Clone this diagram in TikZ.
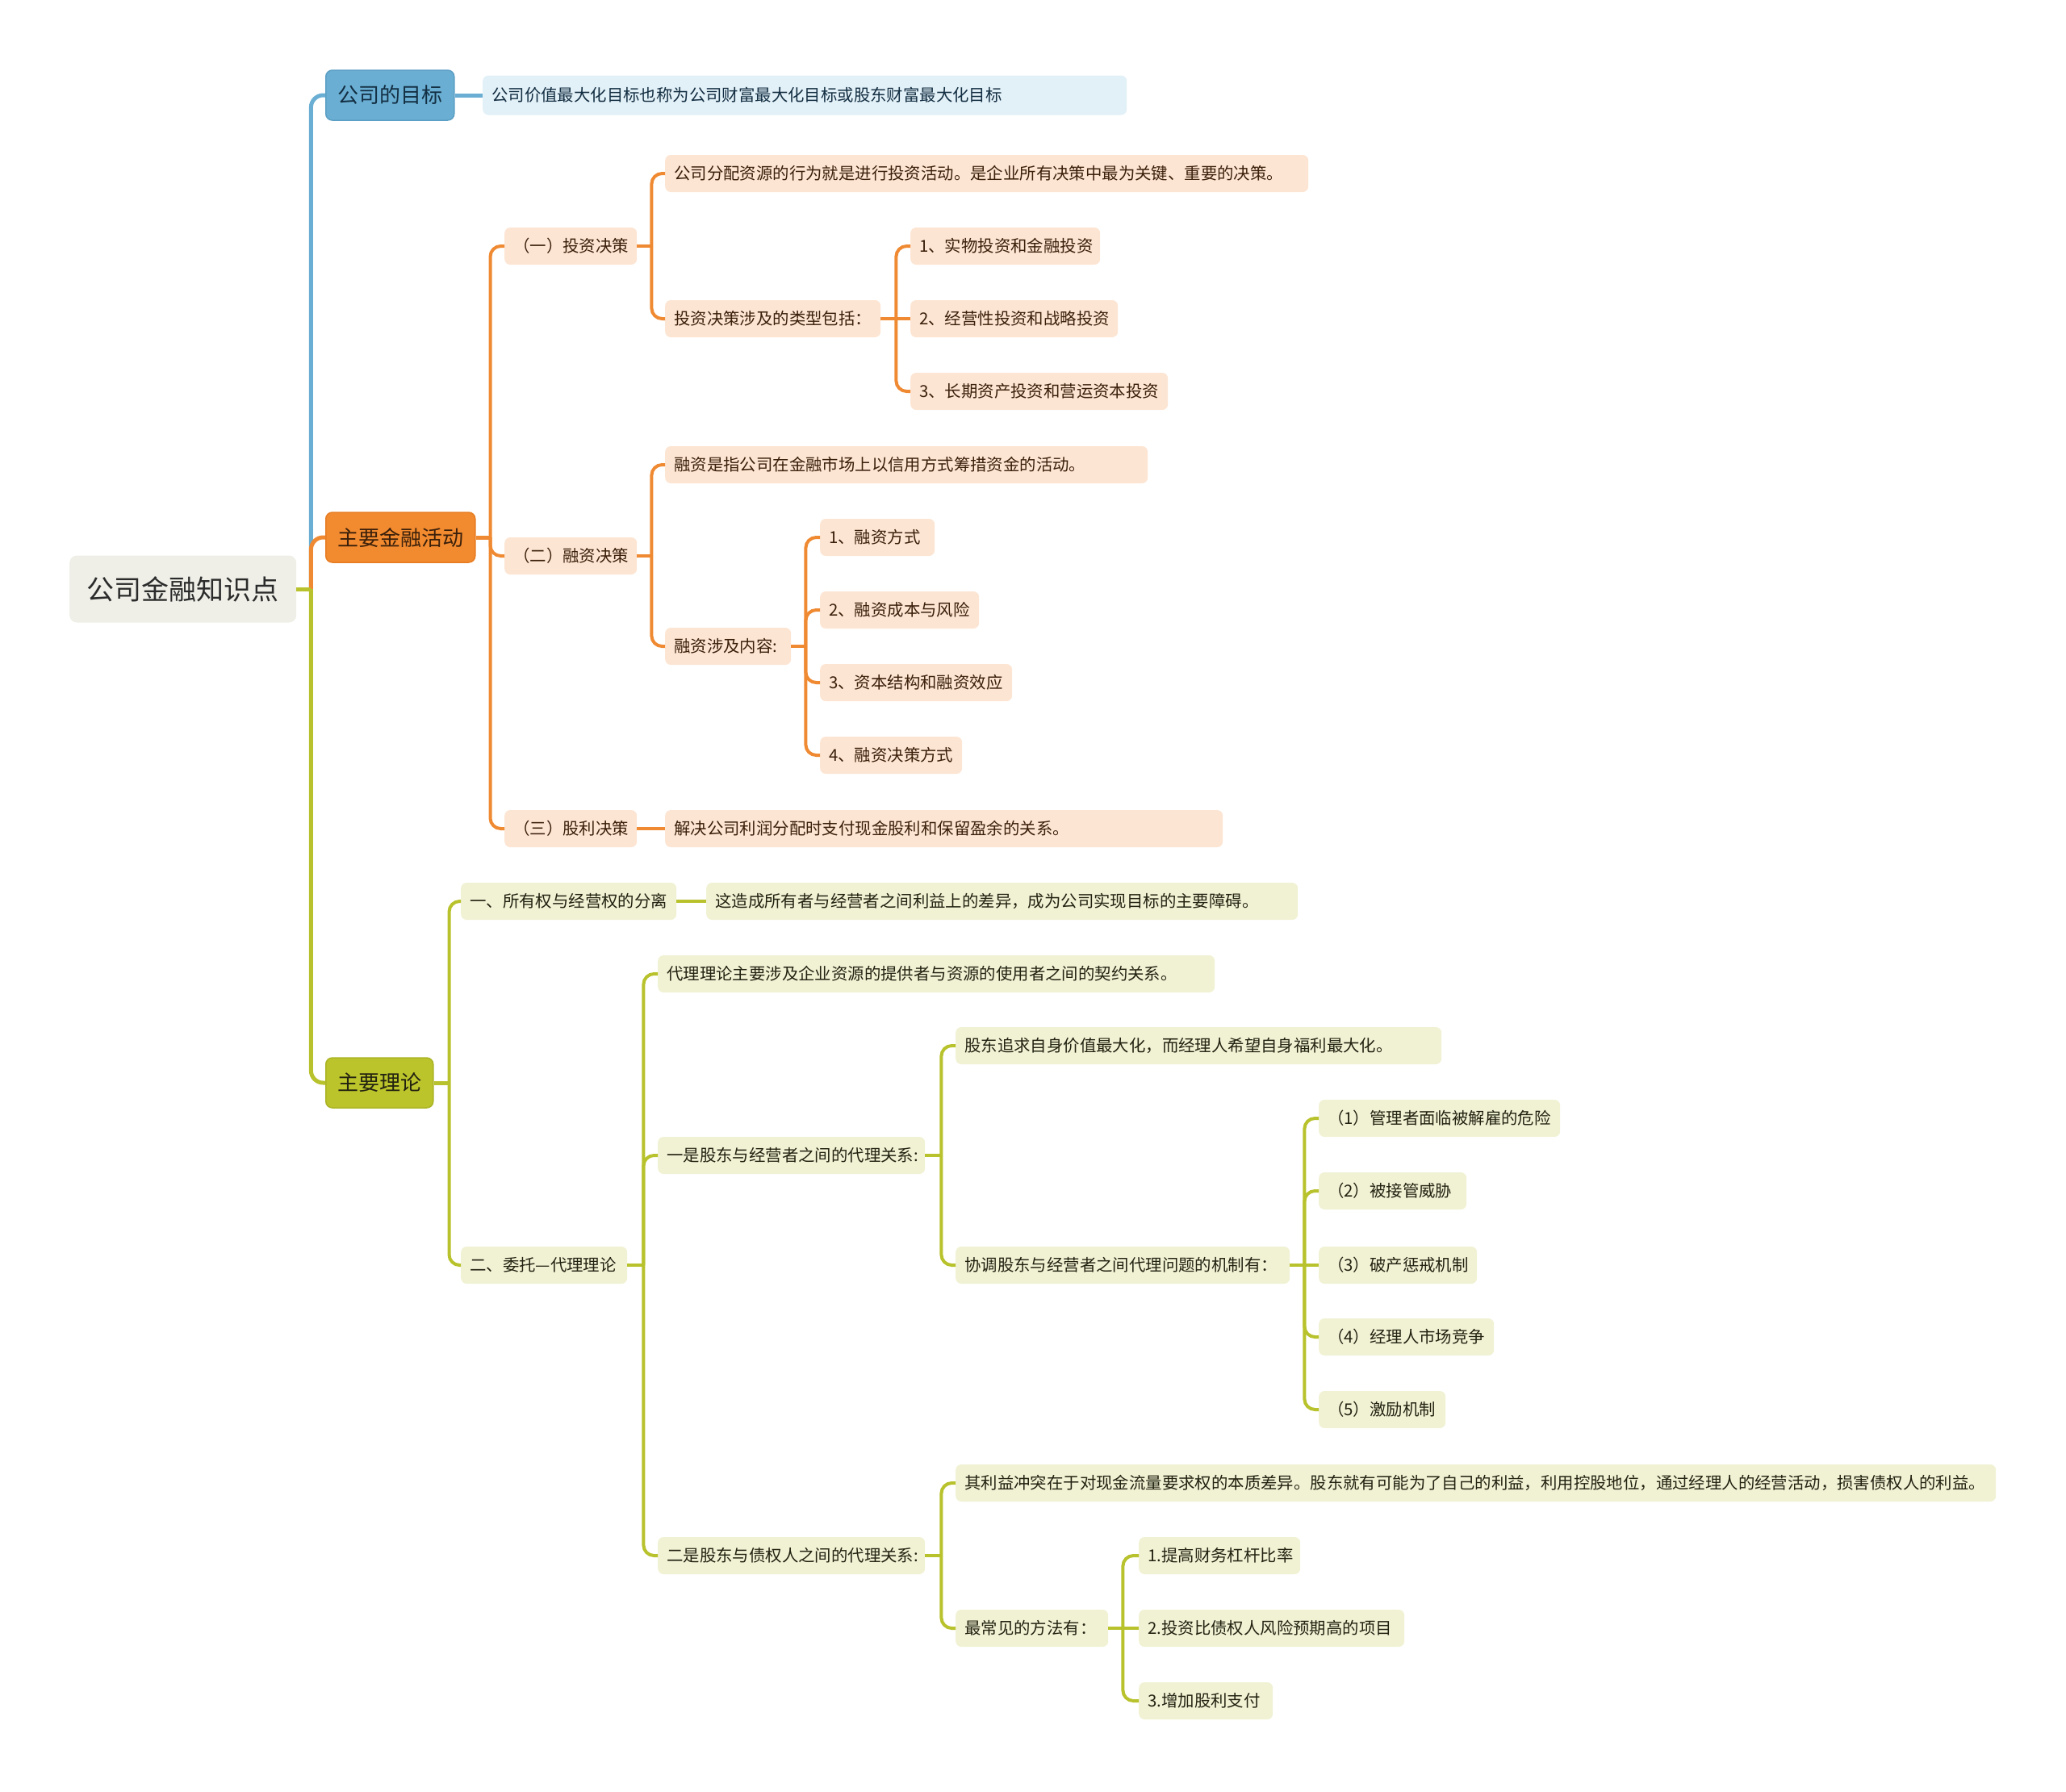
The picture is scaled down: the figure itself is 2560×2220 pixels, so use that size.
\documentclass[tikz,border=0pt]{standalone}
\usepackage{fontspec}
\newfontfamily\cjk{Noto Sans CJK SC}
\usetikzlibrary{calc}
\definecolor{rootfill}{HTML}{EFEFE8}
\definecolor{roottext}{HTML}{2B2B2B}
\definecolor{bfill}{HTML}{6AAFD3}
\definecolor{bdraw}{HTML}{5C9FC4}
\definecolor{bline}{HTML}{6AAFD3}
\definecolor{bleaffill}{HTML}{E2F0F7}
\definecolor{btext}{HTML}{132E42}
\definecolor{ofill}{HTML}{F28A2F}
\definecolor{odraw}{HTML}{E67D22}
\definecolor{oline}{HTML}{EF8A33}
\definecolor{oleaffill}{HTML}{FDE5D3}
\definecolor{otext}{HTML}{3A200B}
\definecolor{gfill}{HTML}{BCC42B}
\definecolor{gdraw}{HTML}{AAB424}
\definecolor{gline}{HTML}{B8C22C}
\definecolor{gleaffill}{HTML}{F1F2D4}
\definecolor{gtext}{HTML}{222211}
\begin{document}
\begin{tikzpicture}[x=1pt,y=-1pt,
  base/.style={anchor=west, rounded corners=7pt, inner xsep=11pt, inner ysep=0pt,
    minimum height=46pt, align=left, font=\cjk\fontsize{20.4pt}{24pt}\selectfont},
  oleaf/.style={base, fill=oleaffill, text=otext},
  gleaf/.style={base, fill=gleaffill, text=gtext},
  bleaf/.style={base, fill=bleaffill, text=btext, minimum height=49pt},
  lone/.style={anchor=west, rounded corners=8pt, inner sep=0pt, minimum height=62pt,
    line width=1.5pt, font=\cjk\fontsize{26pt}{30pt}\selectfont},
  rootbox/.style={anchor=west, rounded corners=9pt, inner sep=0pt, minimum height=83pt,
    fill=rootfill, text=roottext, font=\cjk\fontsize{34pt}{38pt}\selectfont},
  bl/.style={draw=bline, line width=5pt},
  olA/.style={draw=oline, line width=5pt},
  glA/.style={draw=gline, line width=5pt},
  ol/.style={draw=oline, line width=4pt},
  gl/.style={draw=gline, line width=4pt},
]
\useasboundingbox (0,0) rectangle (2560,2220);

% ---------------- nodes ----------------
\node[rootbox, minimum width=281pt] (root) at (86,730) {公司金融知识点};

\node[lone, fill=bfill, draw=bdraw, text=btext, minimum width=159pt] (goal) at (403,118) {公司的目标};
\node[lone, fill=ofill, draw=odraw, text=otext, minimum width=185pt] (fin) at (403,666) {主要金融活动};
\node[lone, fill=gfill, draw=gdraw, text=gtext, minimum width=133pt] (theo) at (403,1342) {主要理论};

\node[bleaf, text width=776pt] (goal1) at (598,118) {公司价值最大化目标也称为公司财富最大化目标或股东财富最大化目标};

% orange branch
\node[oleaf, text width=142pt] (inv) at (625,305) {（一）投资决策};
\node[oleaf, text width=142pt] (fnd) at (625,689) {（二）融资决策};
\node[oleaf, text width=142pt] (div) at (625,1027) {（三）股利决策};

\node[oleaf, text width=775pt] (inv1) at (824,215) {公司分配资源的行为就是进行投资活动。是企业所有决策中最为关键、重要的决策。};
\node[oleaf, text width=245pt] (inv2) at (824,395) {投资决策涉及的类型包括：};
\node[oleaf, text width=213pt] (t1) at (1128,305) {1、实物投资和金融投资};
\node[oleaf, text width=235pt] (t2) at (1128,395) {2、经营性投资和战略投资};
\node[oleaf, text width=297pt] (t3) at (1128,485) {3、长期资产投资和营运资本投资};

\node[oleaf, text width=576pt] (f1) at (824,576) {融资是指公司在金融市场上以信用方式筹措资金的活动。};
\node[oleaf, text width=134pt] (f2) at (824,801) {融资涉及内容:};
\node[oleaf, text width=120pt] (c1) at (1016,666) {1、融资方式};
\node[oleaf, text width=175pt] (c2) at (1016,756) {2、融资成本与风险};
\node[oleaf, text width=216pt] (c3) at (1016,846) {3、资本结构和融资效应};
\node[oleaf, text width=154pt] (c4) at (1016,936) {4、融资决策方式};

\node[oleaf, text width=669pt] (d1) at (824,1027) {解决公司利润分配时支付现金股利和保留盈余的关系。};

% green branch
\node[gleaf, text width=245pt] (own) at (571,1117) {一、所有权与经营权的分离};
\node[gleaf, text width=711pt] (own1) at (875,1117) {这造成所有者与经营者之间利益上的差异，成为公司实现目标的主要障碍。};
\node[gleaf, text width=184pt] (agt) at (571,1568) {二、委托—代理理论};

\node[gleaf, text width=668pt] (a1) at (815,1207) {代理理论主要涉及企业资源的提供者与资源的使用者之间的契约关系。};
\node[gleaf, text width=309pt] (a2) at (815,1432) {一是股东与经营者之间的代理关系:};
\node[gleaf, text width=309pt] (a3) at (815,1928) {二是股东与债权人之间的代理关系:};

\node[gleaf, text width=580pt] (b1) at (1184,1296) {股东追求自身价值最大化，而经理人希望自身福利最大化。};
\node[gleaf, text width=392pt] (b2) at (1184,1568) {协调股东与经营者之间代理问题的机制有：};

\node[gleaf, text width=277pt] (m1) at (1634,1386) {（1）管理者面临被解雇的危险};
\node[gleaf, text width=161pt] (m2) at (1634,1476) {（2）被接管威胁};
\node[gleaf, text width=174pt] (m3) at (1634,1568) {（3）破产惩戒机制};
\node[gleaf, text width=195pt] (m4) at (1634,1657) {（4）经理人市场竞争};
\node[gleaf, text width=135pt] (m5) at (1634,1747) {（5）激励机制};

\node[gleaf, text width=1267pt] (e1) at (1184,1838) {其利益冲突在于对现金流量要求权的本质差异。股东就有可能为了自己的利益，利用控股地位，通过经理人的经营活动，损害债权人的利益。};
\node[gleaf, text width=167pt] (e2) at (1184,2018) {最常见的方法有：};

\node[gleaf, text width=178pt] (g1) at (1411,1928) {1.提高财务杠杆比率};
\node[gleaf, text width=307pt] (g2) at (1411,2018) {2.投资比债权人风险预期高的项目};
\node[gleaf, text width=144pt] (g3) at (1411,2108) {3.增加股利支付};

% ---------------- connectors ----------------
\coordinate (rootJ) at ($(root.east)+(18,0)$);
\draw[bl] (root.east) -- (rootJ);
\draw[bl, rounded corners=15pt] (rootJ) |- (goal.west);
\draw[olA, rounded corners=15pt] (rootJ) |- (fin.west);
\draw[glA] (root.east) -- (rootJ);
\draw[glA, rounded corners=15pt] (rootJ) |- (theo.west);

\draw[bl] (goal.east) -- (goal1.west);

\coordinate (finJ) at ($(fin.east)+(18,0)$);
\draw[olA] (fin.east) -- (finJ);
\foreach \c in {inv,fnd,div} \draw[ol, rounded corners=13pt] (finJ) |- (\c.west);

\coordinate (invJ) at ($(inv.east)+(18,0)$);
\draw[ol] (inv.east) -- (invJ);
\foreach \c in {inv1,inv2} \draw[ol, rounded corners=13pt] (invJ) |- (\c.west);

\coordinate (inv2J) at ($(inv2.east)+(19,0)$);
\draw[ol] (inv2.east) -- (t2.west);
\foreach \c in {t1,t3} \draw[ol, rounded corners=13pt] (inv2J) |- (\c.west);

\coordinate (fndJ) at ($(fnd.east)+(18,0)$);
\draw[ol] (fnd.east) -- (fndJ);
\foreach \c in {f1,f2} \draw[ol, rounded corners=13pt] (fndJ) |- (\c.west);

\coordinate (f2J) at ($(f2.east)+(18,0)$);
\draw[ol] (f2.east) -- (f2J);
\foreach \c in {c1,c2,c3,c4} \draw[ol, rounded corners=13pt] (f2J) |- (\c.west);

\draw[ol] (div.east) -- (d1.west);

\coordinate (theoJ) at ($(theo.east)+(19,0)$);
\draw[glA] (theo.east) -- (theoJ);
\foreach \c in {own,agt} \draw[gl, rounded corners=13pt] (theoJ) |- (\c.west);

\draw[gl] (own.east) -- (own1.west);

\coordinate (agtJ) at ($(agt.east)+(20,0)$);
\draw[gl] (agt.east) -- (agtJ);
\foreach \c in {a1,a2,a3} \draw[gl, rounded corners=13pt] (agtJ) |- (\c.west);

\coordinate (a2J) at ($(a2.east)+(20,0)$);
\draw[gl] (a2.east) -- (a2J);
\foreach \c in {b1,b2} \draw[gl, rounded corners=13pt] (a2J) |- (\c.west);

\coordinate (b2J) at ($(b2.east)+(18,0)$);
\draw[gl] (b2.east) -- (m3.west);
\foreach \c in {m1,m2,m4,m5} \draw[gl, rounded corners=13pt] (b2J) |- (\c.west);

\coordinate (a3J) at ($(a3.east)+(20,0)$);
\draw[gl] (a3.east) -- (a3J);
\foreach \c in {e1,e2} \draw[gl, rounded corners=13pt] (a3J) |- (\c.west);

\coordinate (e2J) at ($(e2.east)+(18,0)$);
\draw[gl] (e2.east) -- (g2.west);
\foreach \c in {g1,g3} \draw[gl, rounded corners=13pt] (e2J) |- (\c.west);
\end{tikzpicture}
\end{document}
